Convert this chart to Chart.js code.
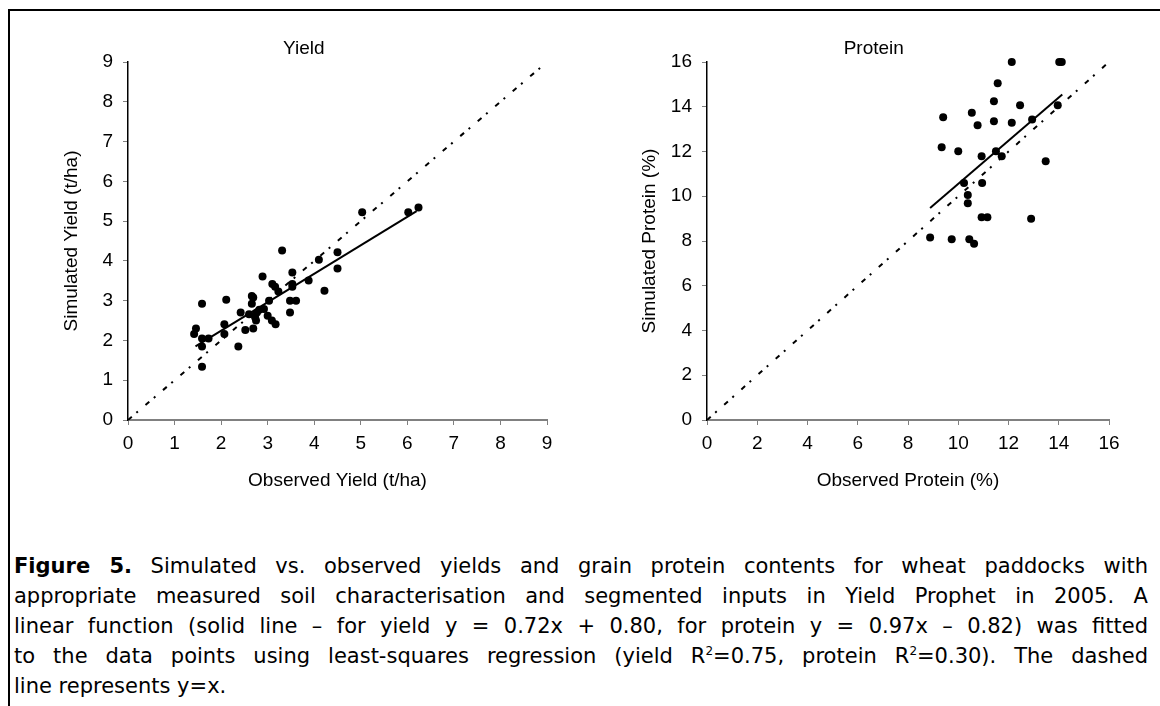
<!DOCTYPE html>
<html lang="en">
<head>
    <meta charset="UTF-8">
    <title>Figure 5 - Simulated vs observed</title>
    <style>
        body {
            margin: 0;
            padding: 0;
            background: #ffffff;
            width: 1160px;
            height: 706px;
            overflow: hidden;
            position: relative;
        }
        .frame {
            position: absolute;
            left: 8px;
            top: 9px;
            width: 1170px;
            height: 720px;
            border-left: 2px solid #000;
            border-top: 2px solid #000;
        }
        .chart-box {
            position: absolute;
            top: 0;
            width: 580px;
            height: 492px;
        }
        .caption {
            position: absolute;
            left: 14px;
            top: 551px;
            width: 1134px;
            font-family: "DejaVu Sans", Verdana, sans-serif;
            font-size: 21px;
            line-height: 30px;
            color: #000;
        }
        .caption div {
            text-align: justify;
            text-align-last: justify;
            white-space: nowrap;
        }
        .caption div.last {
            text-align-last: left;
        }
        .caption sup {
            font-size: 12px;
            line-height: 0;
        }
    </style>
    <script src="https://cdn.jsdelivr.net/npm/chart.js"></script>
</head>
<body>
    <div class="frame"></div>

    <div class="chart-box" style="left:0px;">
        <canvas id="yieldChart" width="580" height="492"></canvas>
    </div>
    <div class="chart-box" style="left:580px;">
        <canvas id="proteinChart" width="580" height="492"></canvas>
    </div>

    <div class="caption">
        <div><b>Figure 5.</b> Simulated vs. observed yields and grain protein contents for wheat paddocks with</div>
        <div>appropriate measured soil characterisation and segmented inputs in Yield Prophet in 2005. A</div>
        <div>linear function (solid line – for yield y = 0.72x + 0.80, for protein y = 0.97x – 0.82) was fitted</div>
        <div>to the data points using least-squares regression (yield R<sup>2</sup>=0.75, protein R<sup>2</sup>=0.30). The dashed</div>
        <div class="last">line represents y=x.</div>
    </div>

    <script>
        // yield panel (t/ha)
        const yieldObserved = [3.31, 2.89, 3.53, 3.53, 3.53, 3.88, 4.10, 4.22, 4.50, 4.50,
            3.10, 3.16, 3.23, 3.48, 3.61, 3.48, 3.03, 2.69, 2.66, 2.66,
            2.42, 2.60, 2.77, 2.92, 2.75, 3.00, 3.09, 3.17, 2.52, 2.69,
            2.11, 1.59, 2.07, 2.07, 1.46, 1.42, 1.59, 1.73, 1.59, 2.37,
            1.59, 5.03, 6.02, 6.24, 2.82, 2.73];
        const yieldSimulated = [4.26, 3.61, 3.71, 3.42, 3.35, 3.51, 4.03, 3.25, 4.22, 3.81,
            3.42, 3.35, 3.23, 3.00, 3.00, 2.70, 3.00, 3.08, 2.92, 3.12,
            2.70, 2.66, 2.70, 2.79, 2.50, 2.62, 2.50, 2.41, 2.26, 2.30,
            3.02, 2.92, 2.41, 2.16, 2.30, 2.16, 2.05, 2.05, 1.85, 1.85,
            1.34, 5.22, 5.22, 5.34, 2.77, 2.58];
        const yieldFitX = [1.45, 6.2];
        const yieldFitY = [1.85, 5.25];
        const yieldOneToOne = [0, 9];
        const yieldTicks = [0, 1, 2, 3, 4, 5, 6, 7, 8, 9];

        // protein panel (%)
        const proteinObserved = [12.13, 14.02, 14.12, 11.57, 11.42, 12.46, 9.40, 10.54, 10.77, 11.42,
            12.13, 12.94, 13.96, 9.34, 10.00, 10.93, 11.50, 11.73, 13.48, 10.23,
            10.95, 10.38, 10.38, 10.93, 11.16, 8.88, 9.74, 10.44, 10.63, 12.90];
        const proteinSimulated = [16.0, 16.0, 16.0, 15.05, 14.25, 14.07, 13.53, 13.73, 13.17, 13.35,
            13.28, 13.43, 14.07, 12.19, 12.01, 11.79, 12.01, 11.79, 11.56, 10.59,
            10.59, 10.06, 9.69, 9.06, 9.06, 8.16, 8.08, 8.08, 7.88, 9.0];
        const proteinFitX = [8.88, 14.14];
        const proteinFitY = [9.48, 14.55];
        const proteinOneToOne = [0, 16];
        const proteinTicks = [0, 2, 4, 6, 8, 10, 12, 14, 16];

        const fontFamily = '"Liberation Sans", Arial, sans-serif';
        const textFont = { family: fontFamily, size: 19 };

        function toPoints(xs, ys) {
            return xs.map((x, i) => ({ x: x, y: ys[i] }));
        }

        function makeChart(canvasId, cfg) {
            const ctx = document.getElementById(canvasId).getContext('2d');
            return new Chart(ctx, {
                type: 'scatter',
                data: {
                    datasets: [
                        {
                            data: toPoints(cfg.obs, cfg.sim),
                            pointRadius: 4,
                            pointBackgroundColor: '#000',
                            pointBorderColor: '#000',
                            pointBorderWidth: 0,
                            clip: false
                        },
                        {
                            type: 'line',
                            data: toPoints(cfg.fitX, cfg.fitY),
                            borderColor: '#000',
                            borderWidth: 2,
                            pointRadius: 0,
                            fill: false
                        },
                        {
                            type: 'line',
                            data: toPoints(cfg.oneToOne, cfg.oneToOne),
                            borderColor: '#000',
                            borderWidth: 2,
                            borderDash: [5, 6, 2, 10],
                            pointRadius: 0,
                            fill: false
                        }
                    ]
                },
                options: {
                    responsive: false,
                    animation: false,
                    layout: {
                        padding: { left: cfg.padLeft, right: cfg.padRight, top: 0, bottom: 0 }
                    },
                    plugins: {
                        legend: { display: false },
                        tooltip: { enabled: false },
                        title: {
                            display: true,
                            text: cfg.title,
                            color: '#000',
                            font: { family: fontFamily, size: 19, weight: 'normal' },
                            padding: { top: 37.6, bottom: 1.6 }
                        }
                    },
                    scales: {
                        x: {
                            type: 'linear',
                            min: cfg.ticks[0],
                            max: cfg.ticks[cfg.ticks.length - 1],
                            afterBuildTicks: function(scale) {
                                scale.ticks = cfg.ticks.map(v => ({ value: v }));
                            },
                            afterFit: function(scale) {
                                scale.height = 72;
                            },
                            border: { display: true, color: '#808080', width: 2 },
                            grid: {
                                drawOnChartArea: false,
                                drawTicks: true,
                                tickLength: 5,
                                color: '#808080',
                                lineWidth: 1
                            },
                            ticks: {
                                color: '#000',
                                font: textFont,
                                padding: 7,
                                maxRotation: 0,
                                autoSkip: false
                            },
                            title: {
                                display: true,
                                text: cfg.xTitle,
                                color: '#000',
                                font: textFont,
                                padding: 0
                            }
                        },
                        y: {
                            type: 'linear',
                            min: cfg.ticks[0],
                            max: cfg.ticks[cfg.ticks.length - 1],
                            afterBuildTicks: function(scale) {
                                scale.ticks = cfg.ticks.map(v => ({ value: v }));
                            },
                            afterFit: function(scale) {
                                scale.width = cfg.yWidth;
                            },
                            border: { display: true, color: '#000', width: 1.5 },
                            grid: {
                                drawOnChartArea: false,
                                drawTicks: true,
                                tickLength: 5,
                                color: '#808080',
                                lineWidth: 1
                            },
                            ticks: {
                                color: '#000',
                                font: textFont,
                                padding: 10,
                                autoSkip: false
                            },
                            title: {
                                display: true,
                                text: cfg.yTitle,
                                color: '#000',
                                font: textFont,
                                padding: 0
                            }
                        }
                    }
                }
            });
        }

        makeChart('yieldChart', {
            obs: yieldObserved,
            sim: yieldSimulated,
            fitX: yieldFitX,
            fitY: yieldFitY,
            oneToOne: yieldOneToOne,
            ticks: yieldTicks,
            title: 'Yield',
            xTitle: 'Observed Yield (t/ha)',
            yTitle: 'Simulated Yield (t/ha)',
            padLeft: 60.6,
            padRight: 33,
            yWidth: 67.4
        });

        makeChart('proteinChart', {
            obs: proteinObserved,
            sim: proteinSimulated,
            fitX: proteinFitX,
            fitY: proteinFitY,
            oneToOne: proteinOneToOne,
            ticks: proteinTicks,
            title: 'Protein',
            xTitle: 'Observed Protein (%)',
            yTitle: 'Simulated Protein (%)',
            padLeft: 58.6,
            padRight: 51,
            yWidth: 68.4
        });
    </script>
</body>
</html>
